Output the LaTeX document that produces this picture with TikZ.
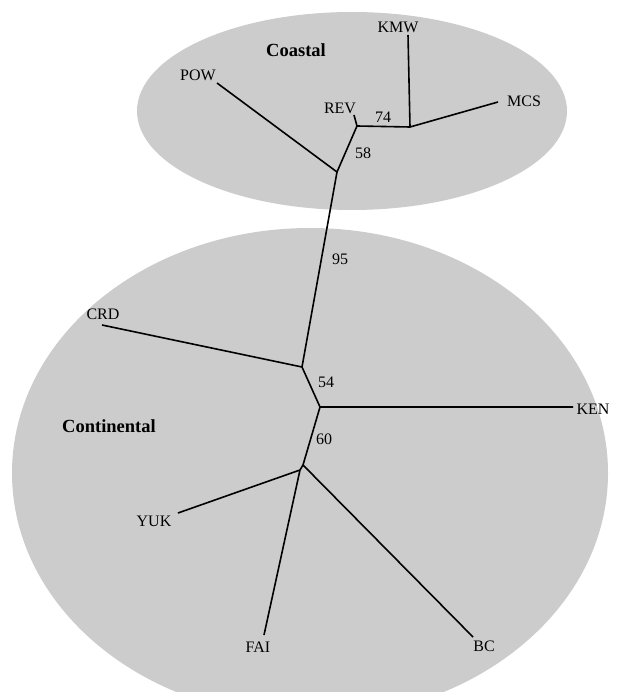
\documentclass[tikz,border=0pt]{standalone}
\usepackage{fontspec}
\setmainfont{Liberation Serif}
\begin{document}
\begin{tikzpicture}[x=1pt,y=-1pt,line join=round,
  grp/.style={fill=black!20,draw=none},
  branch/.style={line width=1.6pt},
  taxon/.style={font=\fontsize{16}{16}\selectfont,inner sep=0pt},
  boot/.style={font=\fontsize{16}{16}\selectfont,inner sep=0pt},
  region/.style={font=\fontsize{18.5}{18.5}\selectfont\bfseries,inner sep=0pt}]
\useasboundingbox (0,0) rectangle (618,692);
\clip (0,0) rectangle (618,692);
% groups
\fill[grp] (352,111) ellipse [x radius=215,y radius=99];
\fill[grp] (310,473) ellipse [x radius=298,y radius=245];
\node[region] (coastal) at (296,50) {Coastal};
\node[region] (continental) at (109,426) {Continental};
% inner nodes
\foreach \n/\x/\y in %
{A/410/127,B/357/126,C/337/172,D/302/367,E/320/407,F/303/465,G/300/470} {
   \coordinate (\n) at (\x,\y);
}
% tips and their labels
\foreach \n/\x/\y/\lx/\ly in %
{KMW/408/35/398/27,MCS/498/102/524/101,REV/354/115/340/108,
 POW/217/83/198/75,CRD/102/325/103/314,KEN/573/407/593/409,
 YUK/178/513/154/521,FAI/264/635/258/647,BC/473/637/484/646} {
   \coordinate (\n) at (\x,\y);
   \node[taxon] (\n lbl) at (\lx,\ly) {\n};
}
\draw[branch] (A) -- (KMW) (A) -- (MCS) (A) -- (B) -- (REV) (B) -- (C) -- (POW)
   (C) -- (D) -- (CRD) (D) -- (E) -- (KEN) (E) -- (F) -- (BC)
   (F) -- (G) -- (YUK) (G) -- (FAI);
% bootstrap values
\foreach \v/\x/\y in %
{74/383/117,58/363/153,95/340/259,54/326/382,60/324/439} {
   \node[boot] (bs\v) at (\x,\y) {\v};
}
\end{tikzpicture}
\end{document}
